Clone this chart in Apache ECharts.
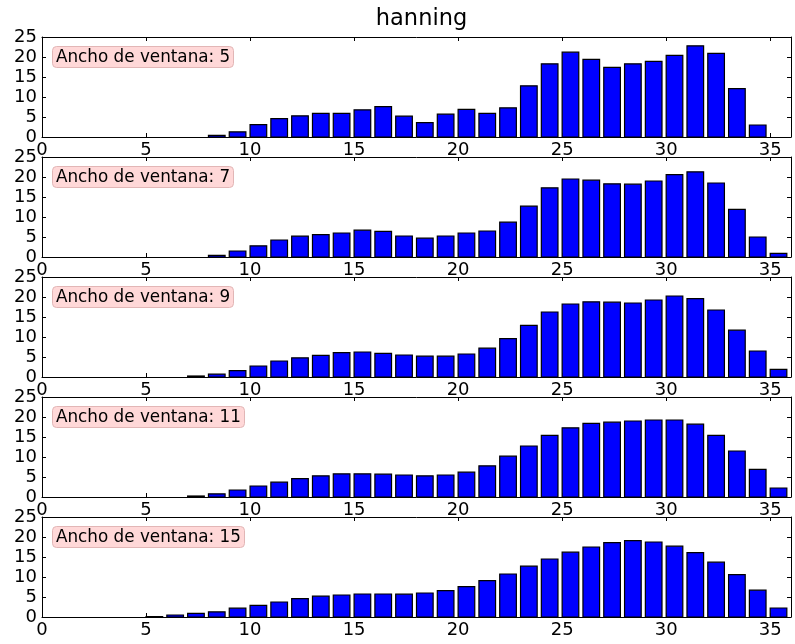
<!DOCTYPE html>
<html>
<head>
<meta charset="utf-8">
<script src="https://cdn.jsdelivr.net/npm/echarts@6/dist/echarts.min.js"></script>
<style>
  html, body { margin: 0; padding: 0; background: #fff; }
  #chart { width: 795px; height: 644px; }
</style>
</head>
<body>
<div id="chart"></div>
<script>
// Smoothed histogram counts, one array per Hanning window width (bins 0..35)
const windowWidths = [5, 7, 9, 11, 15];
const smoothW5 = [0, 0, 0, 0, 0, 0, 0, 0, 0.4, 1.3, 3.1, 4.6, 5.3, 5.9, 5.9, 6.8, 7.6, 5.2, 3.6, 5.7, 6.9, 5.9, 7.3, 12.8, 18.3, 21.2, 19.4, 17.4, 18.3, 18.9, 20.4, 22.8, 20.9, 12.1, 3.0, 0];
const smoothW7 = [0, 0, 0, 0, 0, 0, 0, 0, 0.4, 1.5, 2.8, 4.25, 5.2, 5.6, 6.0, 6.7, 6.4, 5.25, 4.7, 5.25, 6.0, 6.5, 8.7, 12.7, 17.3, 19.5, 19.2, 18.3, 18.2, 19.0, 20.6, 21.3, 18.5, 11.9, 5.0, 0.9];
const smoothW9 = [0, 0, 0, 0, 0, 0, 0, 0.25, 0.7, 1.6, 2.75, 4.0, 4.8, 5.4, 6.1, 6.25, 5.9, 5.5, 5.2, 5.2, 5.75, 7.2, 9.6, 12.9, 16.25, 18.25, 18.8, 18.7, 18.5, 19.25, 20.25, 19.6, 16.75, 11.7, 6.5, 1.9];
const smoothW11 = [0, 0, 0, 0, 0, 0, 0, 0.25, 0.8, 1.75, 2.75, 3.7, 4.6, 5.3, 5.8, 5.8, 5.7, 5.5, 5.3, 5.5, 6.2, 7.8, 10.2, 12.75, 15.4, 17.3, 18.4, 18.7, 19.0, 19.25, 19.25, 18.2, 15.4, 11.5, 6.9, 2.25];
const smoothW15 = [0, 0, 0, 0, 0, 0.1, 0.5, 0.9, 1.3, 2.2, 2.9, 3.75, 4.6, 5.2, 5.5, 5.75, 5.75, 5.7, 6.0, 6.6, 7.6, 9.1, 10.75, 12.7, 14.5, 16.2, 17.5, 18.6, 19.1, 18.75, 17.7, 16.1, 13.7, 10.6, 6.7, 2.25];
const panelSeries = [smoothW5, smoothW7, smoothW9, smoothW11, smoothW15];

const X_MIN = 0, X_MAX = 36, X_STEP = 5;
const Y_MIN = 0, Y_MAX = 25, Y_STEP = 5;
const BAR_WIDTH = 0.8;   // bars start at the bin edge, like matplotlib's align='edge'

const FONT = 'DejaVu Sans';
const chart = echarts.init(document.getElementById('chart'), null, { renderer: 'canvas' });

const grids = [], xAxes = [], yAxes = [], series = [], titles = [];

titles.push({
  text: 'hanning',
  left: 416.5, top: 3, textAlign: 'center',
  textStyle: { fontFamily: FONT, fontSize: 22.5, fontWeight: 'normal', color: '#000' }
});

const frameLine = { show: true, onZero: false, lineStyle: { color: '#000', width: 1 } };
const innerTick = { show: true, inside: true, length: 4, lineStyle: { color: '#000', width: 1 } };

panelSeries.forEach((vals, i) => {
  const top = 37 + 120 * i;
  grids.push({ left: 42, right: 4, top: top, height: 100, containLabel: false });

  // bottom axis with labels, top axis only for inward ticks
  xAxes.push({
    type: 'value', gridIndex: i, position: 'bottom', min: X_MIN, max: X_MAX, interval: X_STEP,
    axisLine: frameLine, axisTick: innerTick, splitLine: { show: false },
    axisLabel: {
      show: true, fontFamily: FONT, fontSize: 18, color: '#000', margin: 4,
      showMaxLabel: false,
      formatter: v => (v % X_STEP === 0 ? String(v) : '')
    }
  });
  xAxes.push({
    type: 'value', gridIndex: i, position: 'top', min: X_MIN, max: X_MAX, interval: X_STEP,
    axisLine: frameLine, axisTick: innerTick, splitLine: { show: false }, axisLabel: { show: false }
  });

  yAxes.push({
    type: 'value', gridIndex: i, position: 'left', min: Y_MIN, max: Y_MAX, interval: Y_STEP,
    axisLine: frameLine, axisTick: innerTick, splitLine: { show: false },
    axisLabel: { show: true, fontFamily: FONT, fontSize: 18, color: '#000', margin: 5 }
  });
  yAxes.push({
    type: 'value', gridIndex: i, position: 'right', min: Y_MIN, max: Y_MAX, interval: Y_STEP,
    axisLine: frameLine, axisTick: innerTick, splitLine: { show: false }, axisLabel: { show: false }
  });

  series.push({
    type: 'custom',
    xAxisIndex: 2 * i, yAxisIndex: 2 * i,
    data: vals.map((v, k) => [k, v]),
    encode: { x: 0, y: 1 },
    renderItem: (params, api) => {
      const x = api.value(0), y = api.value(1);
      if (!(y > 0)) return null;   // empty bins sit on the axis line
      const p0 = api.coord([x, y]);
      const p1 = api.coord([x + BAR_WIDTH, 0]);
      return {
        type: 'rect',
        shape: { x: p0[0], y: p0[1], width: p1[0] - p0[0], height: p1[1] - p0[1] },
        style: { fill: '#0000ff', stroke: '#000', lineWidth: 1.2 }
      };
    },
    z: 1
  });

  titles.push({
    text: 'Ancho de ventana: ' + windowWidths[i],
    left: 52, top: top + 9,
    padding: [2, 4, 1, 4],
    backgroundColor: '#ffd8d8',
    borderColor: '#e2b6b6',
    borderWidth: 1,
    borderRadius: 4,
    textStyle: { fontFamily: FONT, fontSize: 16.8, fontWeight: 'normal', color: '#000', lineHeight: 19 }
  });
});

chart.setOption({
  animation: false,
  backgroundColor: '#fff',
  title: titles,
  grid: grids,
  xAxis: xAxes,
  yAxis: yAxes,
  series: series
});
</script>
</body>
</html>
